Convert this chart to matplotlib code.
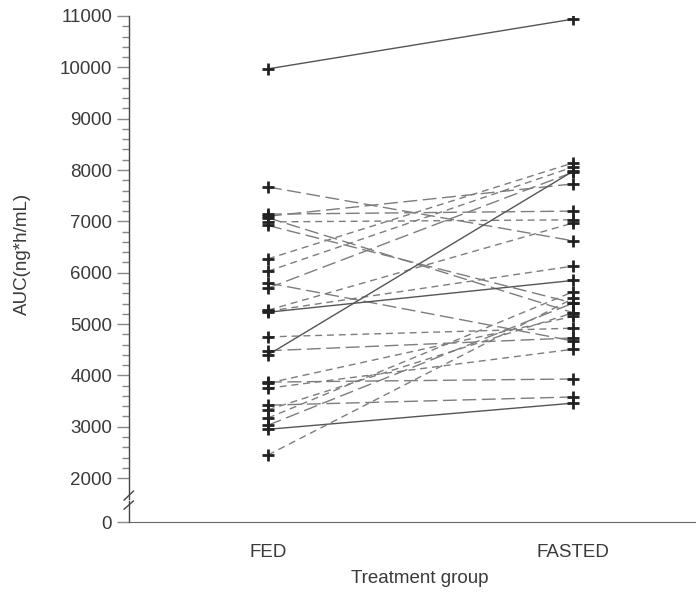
import numpy as np
import matplotlib
matplotlib.use("Agg")
import matplotlib.pyplot as plt
import matplotlib.transforms as mtransforms

plt.rcParams['font.family'] = ['Liberation Sans', 'DejaVu Sans']

groups = ['FED', 'FASTED']

# paired AUC values (ng*h/mL), one subject per entry
fed = [9970, 7670, 7140, 7100, 7070, 6990, 6920, 6270, 6030, 5800, 5700,
       5270, 5250, 5230, 4750, 4480, 4400, 3870, 3850, 3750, 3420, 3330,
       3170, 3030, 2950, 2450]
fasted = [10940, 6620, 7200, 7730, 5220, 7030, 5410, 8140, 8060, 4670, 7960,
          6970, 6130, 5850, 4920, 4730, 7980, 3930, 5150, 4510, 3580, 5220,
          5630, 5410, 3460, 5500]
styles = ['solid', 'long', 'long', 'long', 'long', 'short', 'long', 'short',
          'short', 'long', 'long', 'short', 'short', 'solid', 'short', 'long',
          'solid', 'long', 'short', 'short', 'long', 'short', 'short', 'long',
          'solid', 'short']

dash = {'solid': '-', 'long': (0, (10, 4)), 'short': (0, (5, 3.5))}

# compressed segment below the axis break
K = 0.429
def fwd(y):
    y = np.asarray(y, dtype=float)
    return np.where(y >= 2000, y, 2000 - (2000 - y) * K)

def inv(y):
    y = np.asarray(y, dtype=float)
    return np.where(y >= 2000, y, 2000 - (2000 - y) / K)

fig = plt.figure(figsize=(6.96, 5.92), dpi=100)
ax = fig.add_axes([0.185, 0.118, 0.837, 0.855])
ax.set_yscale('function', functions=(fwd, inv))

for a, b, s in zip(fed, fasted, styles):
    col = '#555555' if s == 'solid' else '#7d7d7d'
    ax.plot([0, 1], [a, b], color=col, lw=1.0, linestyle=dash[s], zorder=2)
ax.plot([0] * len(fed), fed, '+', color='#222222', ms=9, mew=2, ls='none', zorder=3)
ax.plot([1] * len(fasted), fasted, '+', color='#222222', ms=9, mew=2, ls='none', zorder=3)

ax.set_xlim(-0.456, 1.452)
ax.set_ylim(0, 11000)
ax.set_xticks([0, 1])
ax.set_xticklabels(groups)
ax.set_yticks([0] + list(range(2000, 11001, 1000)))
ax.set_yticks([v for v in range(2200, 11000, 200) if v % 1000], minor=True)

ax.tick_params(axis='y', which='major', length=9, width=1, color='#888888',
               labelsize=13.5, labelcolor='#3a3a3a', pad=3)
ax.tick_params(axis='y', which='minor', length=5, width=1, color='#888888')
ax.tick_params(axis='x', length=0, labelsize=13.5, labelcolor='#3a3a3a', pad=16)

for sp in ['top', 'right', 'left']:
    ax.spines[sp].set_visible(False)
ax.spines['bottom'].set_color('#666666')

# left axis line drawn in two pieces with a break
trans = mtransforms.blended_transform_factory(ax.transAxes, ax.transData)
ax.plot([0, 0], [0, 950], color='#444444', lw=1, transform=trans, clip_on=False)
ax.plot([0, 0], [1050, 11000], color='#444444', lw=1, transform=trans, clip_on=False)
ax.plot([-0.008, 0.008], [1000, 1410], color='#444444', lw=1, transform=trans, clip_on=False)
ax.plot([-0.008, 0.008], [590, 960], color='#444444', lw=1, transform=trans, clip_on=False)

ax.set_ylabel('AUC(ng*h/mL)', fontsize=13.5, color='#3a3a3a')
ax.yaxis.set_label_coords(-0.168, 0.53)
ax.set_xlabel('Treatment group', fontsize=13.5, color='#3a3a3a', labelpad=6)

fig.savefig('out.png', dpi=100)
